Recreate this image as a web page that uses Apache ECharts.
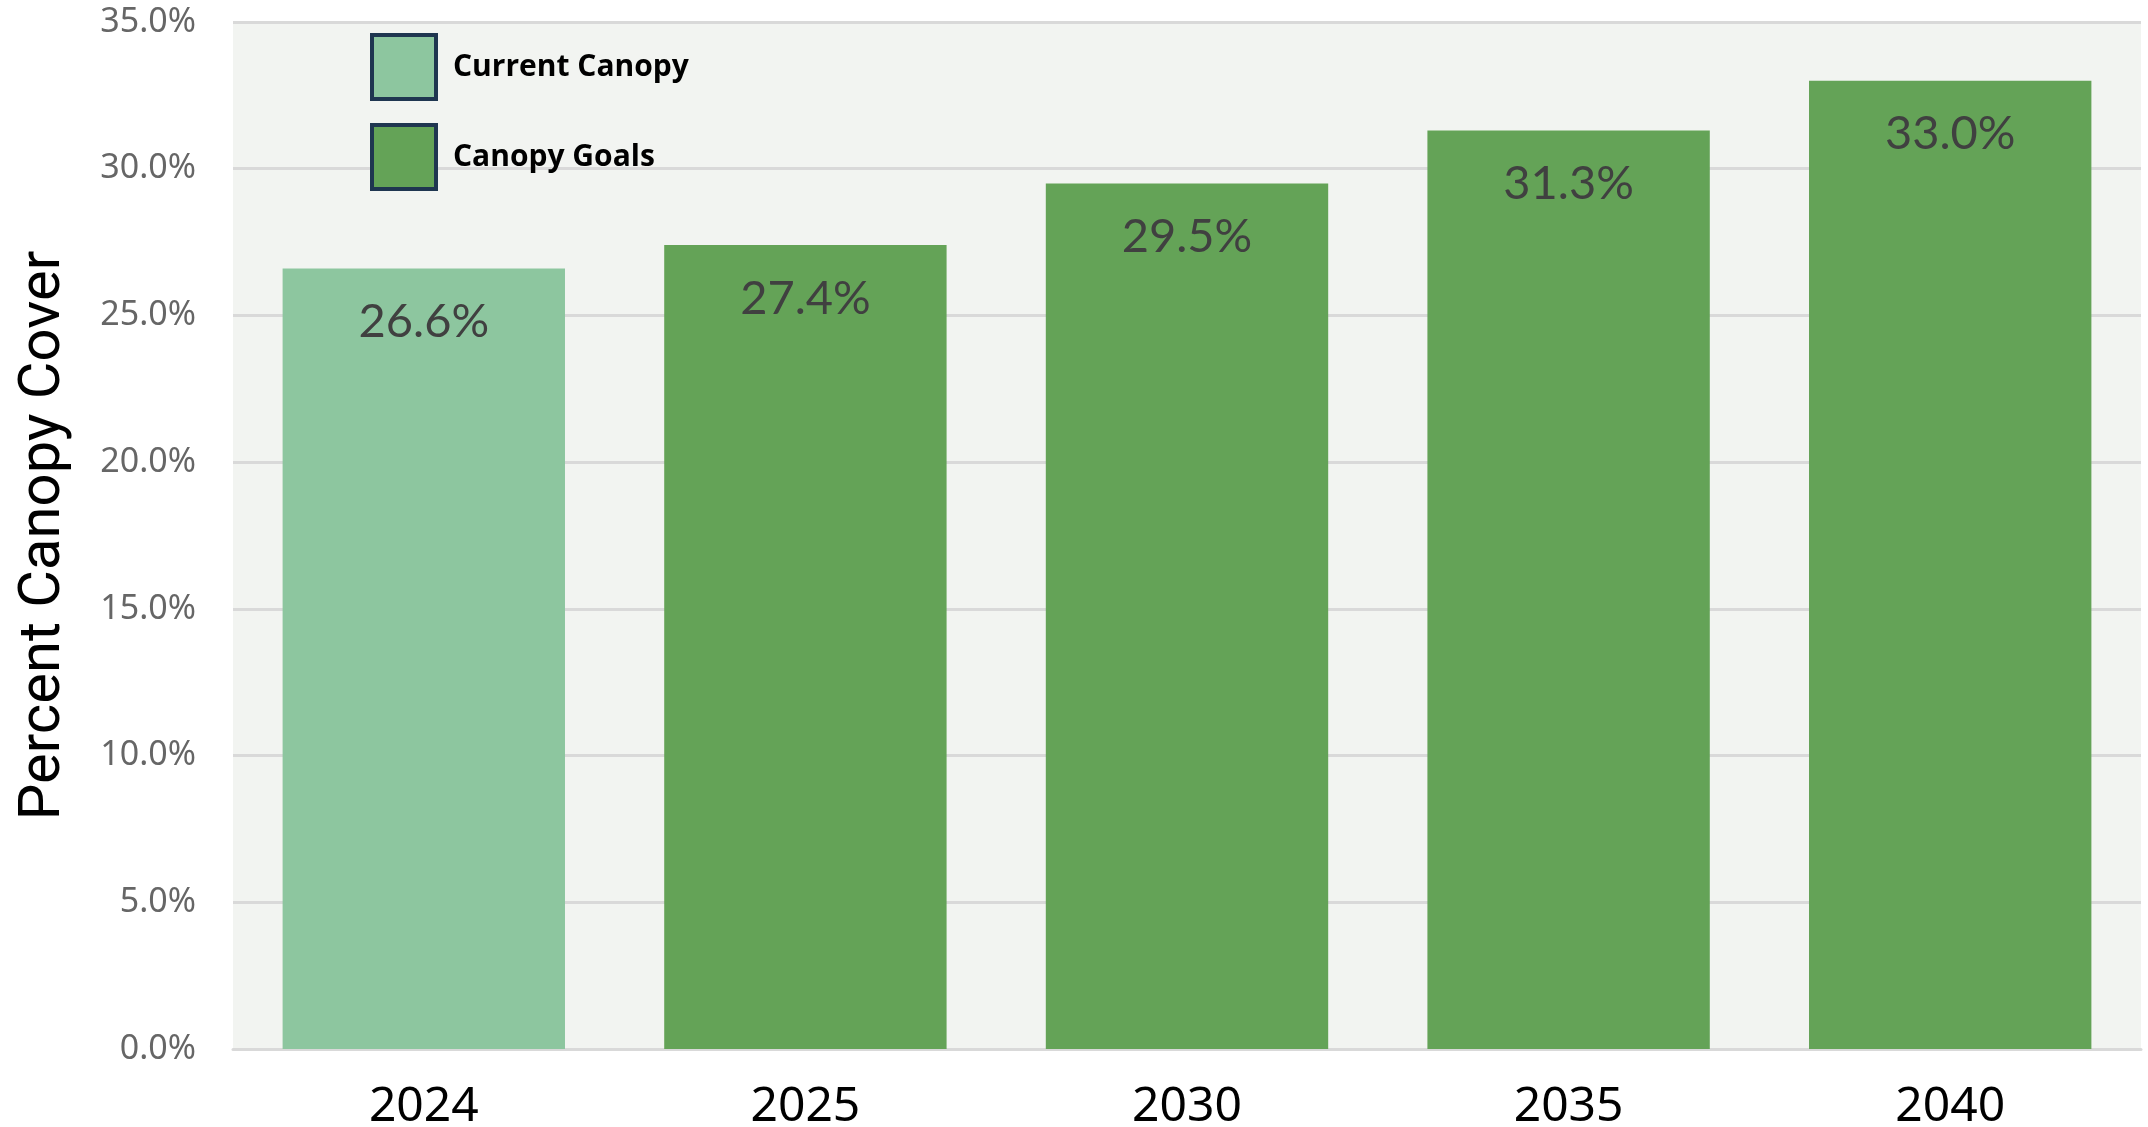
<!DOCTYPE html>
<html>
<head>
<meta charset="utf-8">
<script src="https://cdn.jsdelivr.net/npm/echarts@6/dist/echarts.min.js"></script>
<style>
  html, body { margin: 0; padding: 0; background: #fff; }
  #chart { width: 2148px; height: 1127px; }
</style>
</head>
<body>
<div id="chart"></div>
<script>
// data
const years = ['2024', '2025', '2030', '2035', '2040']
const currentCanopy = [26.6, null, null, null, null]
const canopyGoals = [null, 27.4, 29.5, 31.3, 33.0]
const yTicks = [0, 5, 10, 15, 20, 25, 30, 35]

const chart = echarts.init(document.getElementById('chart'))

const labelStyle = {
  show: true,
  position: 'insideTop',
  distance: 30,
  color: '#404040',
  fontFamily: 'Lato',
  fontSize: 47,
  formatter: p => p.value.toFixed(1) + '%'
}

const option = {
  animation: false,
  grid: {
    left: 233,
    right: 7,
    top: 22,
    bottom: 78,
    outerBoundsMode: 'none',
    containLabel: false,
    show: true,
    backgroundColor: '#f2f4f1',
    borderWidth: 0
  },
  legend: {
    orient: 'vertical',
    left: 365,
    top: 28,
    itemWidth: 64,
    itemHeight: 64,
    itemGap: 22,
    icon: 'rect',
    itemStyle: {
      borderColor: '#1f3650',
      borderWidth: 4
    },
    textStyle: {
      fontFamily: 'Open Sans',
      fontWeight: 'bold',
      fontSize: 30,
      color: '#000',
      padding: [0, 0, 0, 12]
    },
    data: ['Current Canopy', 'Canopy Goals']
  },
  xAxis: {
    type: 'category',
    data: years,
    axisTick: { show: false },
    axisLine: {
      show: true,
      lineStyle: { color: '#d9d9d9', width: 3 }
    },
    axisLabel: {
      color: '#000',
      fontFamily: 'Noto Sans',
      fontSize: 48,
      margin: 34
    }
  },
  yAxis: {
    type: 'value',
    min: yTicks[0],
    max: yTicks[yTicks.length - 1],
    interval: 5,
    name: 'Percent Canopy Cover',
    nameLocation: 'middle',
    nameGap: 160,
    nameTextStyle: {
      color: '#000',
      fontFamily: 'Roboto',
      fontSize: 58
    },
    axisLine: { show: false },
    axisTick: { show: false },
    splitLine: {
      lineStyle: { color: '#d9d9d9', width: 3 }
    },
    axisLabel: {
      color: '#666',
      fontFamily: 'Noto Sans',
      fontSize: 34,
      margin: 37,
      formatter: v => v.toFixed(1) + '%'
    }
  },
  series: [
    {
      name: 'Current Canopy',
      type: 'bar',
      barWidth: '74%',
      barGap: '-100%',
      itemStyle: { color: '#8dc69f' },
      label: labelStyle,
      data: currentCanopy
    },
    {
      name: 'Canopy Goals',
      type: 'bar',
      barWidth: '74%',
      itemStyle: { color: '#64a357' },
      label: labelStyle,
      data: canopyGoals
    }
  ]
}

chart.setOption(option)
</script>
</body>
</html>
